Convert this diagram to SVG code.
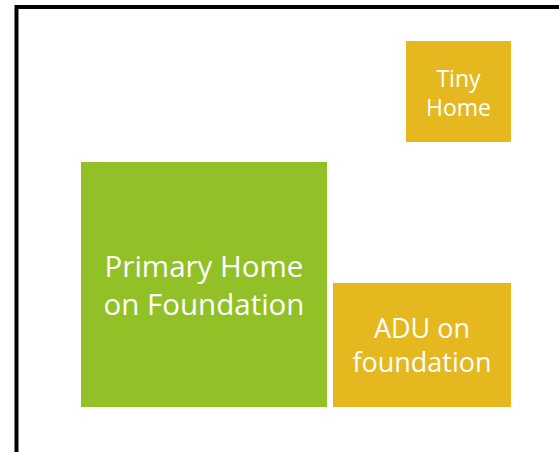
<svg xmlns="http://www.w3.org/2000/svg" width="559" height="452" viewBox="0 0 559 452">
<style>
.t{font-family:"Open Sans","DejaVu Sans",sans-serif;fill:#fff;text-anchor:middle}
</style>
<rect width="559" height="452" fill="#fff"/>
<path d="M16.5 452 V7 H559" fill="none" stroke="#000" stroke-width="4"/>
<g id="primary">
<rect x="81" y="162" width="246" height="245" fill="#91C126"/>
<text class="t" font-size="29.5" x="204" y="277">Primary Home</text>
<text class="t" font-size="29.5" x="204" y="315">on Foundation</text>
</g>
<g id="tiny">
<rect x="406" y="41" width="105" height="101" fill="#E5B820"/>
<text class="t" font-size="23" x="458.5" y="87">Tiny</text>
<text class="t" font-size="23" x="458.5" y="116">Home</text>
</g>
<g id="adu">
<rect x="333" y="283" width="178" height="124" fill="#E5B820"/>
<text class="t" font-size="27" x="422" y="338">ADU on</text>
<text class="t" font-size="27" x="422" y="372">foundation</text>
</g>
<g id="connectors"/>
</svg>
